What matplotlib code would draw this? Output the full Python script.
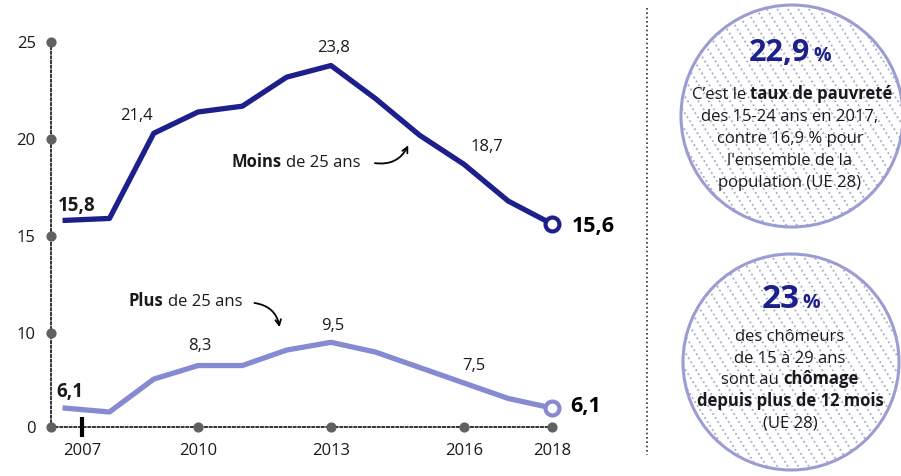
import numpy as np
import matplotlib
matplotlib.use('Agg')
import matplotlib.pyplot as plt
from matplotlib.patches import Circle

plt.rcParams['font.family'] = ['Open Sans', 'DejaVu Sans']

years = list(range(2007, 2019))
moins_25 = [15.8, 15.9, 20.3, 21.4, 21.7, 23.2, 23.8, 22.1, 20.2, 18.7, 16.8, 15.6]
plus_25 = [6.1, 5.9, 7.6, 8.3, 8.3, 9.1, 9.5, 9.0, 8.2, 7.4, 6.6, 6.1]

# the axis is broken: the "0" tick sits just under 6
y_floor = 5.14
ytick_vals = [y_floor, 10, 15, 20, 25]
ytick_labels = ['0', '10', '15', '20', '25']
xtick_vals = [2007.38, 2010, 2013, 2016, 2018]
xtick_labels = ['2007', '2010', '2013', '2016', '2018']

# (year, text, dx px, dy px up, bold, size)
moins_labels = [(2007, '15,8', 11, 14.7, True, 13.5), (2010, '21,4', -62, -4.3, False, 12),
                (2013, '23,8', 3, 17.7, False, 12), (2016, '18,7', 23.5, 17, False, 12)]
plus_labels = [(2007, '6,1', 5, 16.6, True, 13.5), (2010, '8,3', 2, 20, False, 12),
               (2013, '9,5', 2, 16, False, 12), (2016, '7,5', 10, 17.4, False, 12)]

NAVY = '#1c1f8c'
LIGHT = '#868ad3'
DOT = '#5d625f'
TXT = '#1a1a1a'

fig = plt.figure(figsize=(9.01, 4.76), dpi=100)
ax = fig.add_axes([51 / 901, 49.3 / 476, 567.9 / 901, 413.44 / 476])
ax.set_xlim(2006.68, 2019.5)
ax.set_ylim(y_floor, 26.5)
ax.patch.set_alpha(0)

ax.plot(years, moins_25, color=NAVY, lw=3.8, zorder=4)
ax.plot(years, plus_25, color=LIGHT, lw=3.8, zorder=4)
ax.plot(years[-1], moins_25[-1], 'o', ms=10, mfc='white', mec=NAVY, mew=3, zorder=5)
ax.plot(years[-1], plus_25[-1], 'o', ms=10, mfc='white', mec=LIGHT, mew=3, zorder=5)

for data, labels in [(moins_25, moins_labels), (plus_25, plus_labels)]:
    for yr, txt, dx, dy, bold, sz in labels:
        ax.annotate(txt, (yr, data[years.index(yr)]), xytext=(dx * 0.72, dy * 0.72),
                    textcoords='offset points', ha='center', va='center',
                    fontsize=sz, fontweight='bold' if bold else 'normal', color=TXT)

ax.annotate('15,6', (years[-1], moins_25[-1]), xytext=(19 * 0.72, -2 * 0.72),
            textcoords='offset points', ha='left', va='center', fontsize=15.5,
            fontweight='bold', color='black')
ax.annotate('6,1', (years[-1], plus_25[-1]), xytext=(18 * 0.72, 1.7 * 0.72),
            textcoords='offset points', ha='left', va='center', fontsize=15.5,
            fontweight='bold', color='black')

# series names with arrows
t1 = ax.text(2010.75, 18.83, 'Moins', fontsize=12, fontweight='bold', color=TXT,
             ha='left', va='center')
ax.annotate('de 25 ans', xy=(1, 0), xycoords=t1, xytext=(3, 0),
            textcoords='offset points', ha='left', va='bottom', fontsize=12, color=TXT)
ax.annotate('', xy=(2014.77, 19.81), xytext=(2013.93, 18.78),
            arrowprops=dict(arrowstyle='->', connectionstyle='arc3,rad=0.4',
                            color='black', lw=1.3))
t2 = ax.text(2008.44, 11.65, 'Plus', fontsize=12, fontweight='bold', color=TXT,
             ha='left', va='center')
ax.annotate('de 25 ans', xy=(1, 0), xycoords=t2, xytext=(3, 0),
            textcoords='offset points', ha='left', va='bottom', fontsize=12, color=TXT)
ax.annotate('', xy=(2011.85, 10.14), xytext=(2011.21, 11.55),
            arrowprops=dict(arrowstyle='->', connectionstyle='arc3,rad=-0.4',
                            color='black', lw=1.3))

# axes
for s in ['top', 'right']:
    ax.spines[s].set_visible(False)
for s in ['left', 'bottom']:
    ax.spines[s].set_linestyle((0, (1, 1.4)))
    ax.spines[s].set_linewidth(1.4)
    ax.spines[s].set_color('#333333')
ax.spines['left'].set_bounds(y_floor, 25)
ax.spines['bottom'].set_bounds(2006.68, 2018)

ax.set_yticks(ytick_vals, ytick_labels)
ax.set_xticks(xtick_vals, xtick_labels)
ax.tick_params(axis='y', length=0, pad=11, labelsize=12, labelcolor=TXT)
ax.tick_params(axis='x', length=0, pad=12, labelsize=12, labelcolor=TXT)

x0 = ax.get_xlim()[0]
ax.scatter([x0] * len(ytick_vals), ytick_vals, s=40, color=DOT, clip_on=False, zorder=6)
ax.scatter(xtick_vals[1:], [y_floor] * 4, s=40, color=DOT, clip_on=False, zorder=6)
ax.plot([xtick_vals[0]] * 2, [4.60, 5.66], color='black', lw=3, clip_on=False,
        solid_capstyle='butt', zorder=6)

# right-hand panel
deco = fig.add_axes([0, 0, 1, 1])
deco.set_xlim(0, 901)
deco.set_ylim(476, 0)
deco.axis('off')
deco.patch.set_alpha(0)

deco.plot([647, 647], [8, 455], ls=(0, (1, 1.6)), color='#333333', lw=1.2)

for cx, cy, r in [(792, 116, 111), (791, 362, 108)]:
    circ = Circle((cx, cy), r, fc='white', ec='none', zorder=1)
    deco.add_patch(circ)
    for xs in np.arange(cx - 1.8 * r, cx + 1.8 * r, 10.5):
        ln, = deco.plot([xs - r / 1.6, xs + r / 1.6], [cy - r, cy + r],
                        ls=(0, (1, 1.6)), color='#a7aac6', lw=1.3, zorder=1.5)
        ln.set_clip_path(circ)
    edge = Circle((cx, cy), r, fc='none', ec='#9a9dd3', lw=2.2, zorder=2)
    deco.add_patch(edge)

renderer = fig.canvas.get_renderer()


def rich_line(cx, base, parts, gap=4.3):
    texts = []
    for s, w, sz, c in parts:
        texts.append(deco.text(0, base, s, fontsize=sz, fontweight=w, color=c,
                               ha='left', va='baseline', zorder=3))
    widths = [t.get_window_extent(renderer).width for t in texts]
    x = cx - (sum(widths) + gap * (len(texts) - 1)) / 2
    for t, w in zip(texts, widths):
        t.set_x(x)
        x += w + gap


N, B = 'normal', 'bold'
rich_line(790, 61, [('22,9', B, 22, NAVY), ('%', B, 14, NAVY)], gap=3)
rich_line(792, 99, [("C’est le", N, 12, TXT), ('taux de pauvreté', B, 12, TXT)])
rich_line(790, 121, [('des 15-24 ans en 2017,', N, 12, TXT)])
rich_line(790, 143, [('contre 16,9 % pour', N, 12, TXT)])
rich_line(790, 165, [("l'ensemble de la", N, 12, TXT)])
rich_line(790, 187, [('population (UE 28)', N, 12, TXT)])

rich_line(791, 308, [('23', B, 24, NAVY), ('%', B, 14, NAVY)], gap=3)
rich_line(790, 341, [('des chômeurs', N, 12, TXT)])
rich_line(790, 363, [('de 15 à 29 ans', N, 12, TXT)])
rich_line(790, 384, [('sont au', N, 12, TXT), ('chômage', B, 12, TXT)])
rich_line(790, 406, [('depuis plus de 12 mois', B, 12, TXT)])
rich_line(790, 428, [('(UE 28)', N, 12, TXT)])

fig.savefig('out.png', dpi=100)
